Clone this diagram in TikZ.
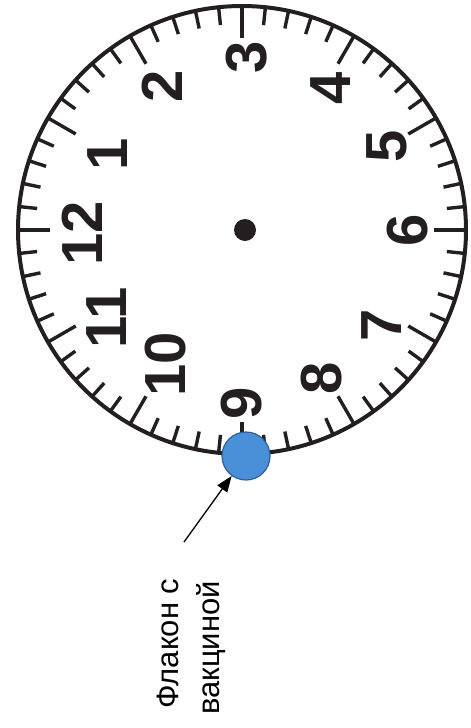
\documentclass[tikz,border=0pt]{standalone}
\usepackage{fontspec}
\setmainfont{Liberation Sans}
\usetikzlibrary{arrows.meta}
\definecolor{vialfill}{RGB}{74,144,217}
\definecolor{vialdraw}{RGB}{45,95,155}
\definecolor{ink}{RGB}{35,31,32}
\begin{document}
\begin{tikzpicture}[x=1pt,y=-1pt,
  rim/.style={line width=4pt, draw=ink},
  ticks/.style={line width=3.4pt, draw=ink},
  hour/.style={font=\fontsize{58}{58}\selectfont\bfseries, text=ink, rotate=90, inner sep=0pt},
  hub/.style={circle, fill=ink, minimum size=22pt, inner sep=0pt},
  vial/.style={circle, fill=vialfill, draw=vialdraw, line width=1.2pt, minimum size=48pt, inner sep=0pt},
  caption/.style={font=\fontsize{31}{31}\selectfont, rotate=90, inner sep=0pt, anchor=base west},
  pointer/.style={line width=1.3pt, -{Triangle[length=16pt,width=12pt]}}
]
\useasboundingbox (0,0) rectangle (471,728);
\coordinate (c) at (242,230);
\draw[rim] (c) circle[radius=224];
\foreach \i in {0,...,59}{
  \pgfmathsetmacro\len{mod(\i,5)==0 ? 32 : 18}
  \pgfmathsetmacro\ang{\i*6}
  \draw[ticks] ([shift={(\ang:224)}]c) -- ([shift={(\ang:224-\len)}]c);
}
\node[hub] (hub) at (245,230) {};
\foreach \n/\x/\y in {1/108/154, 2/162/86, 3/247/57.5, 4/331/88, 5/387/146, 6/408/230,
  7/382/325, 8/322/378, 9/242/403, 10/166/364, 11/107/318, 12/82/233}{
  \node[hour] (h\n) at (\x,\y) {\n};
}
\node[vial] (vial) at (246,456) {};
\coordinate (tail) at (184,542);
\draw[pointer] (tail) -- (vial);
\node[caption] (cap1) at (178,709) {Флакон с};
\node[caption] (cap2) at (219,715) {вакциной};
\end{tikzpicture}
\end{document}
